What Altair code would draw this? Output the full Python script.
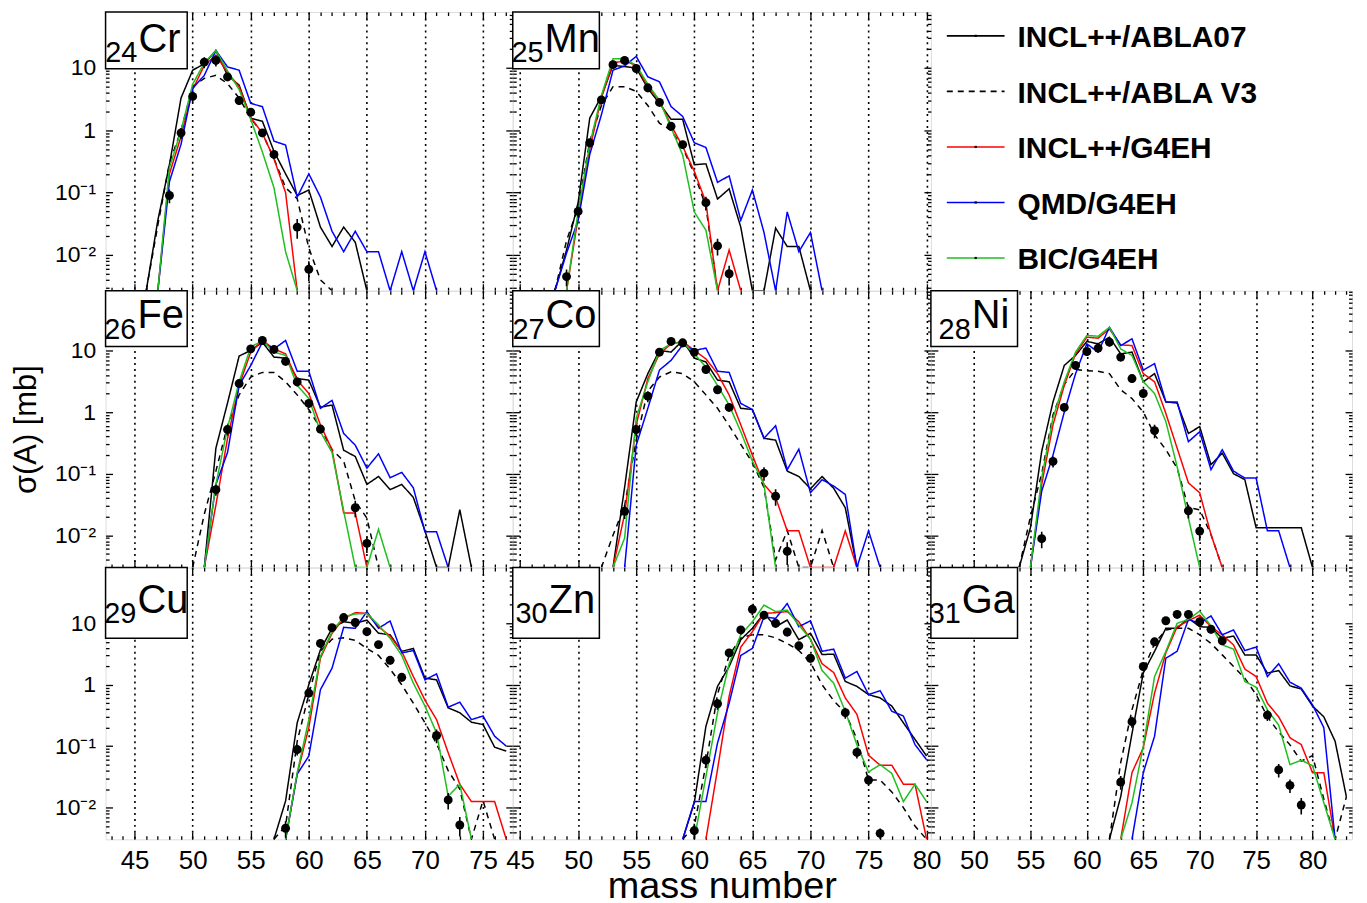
import math
import altair as alt
import pandas as pd

FONT = "Liberation Sans, Arial, Helvetica, sans-serif"

# ---------------- data ----------------
MODEL_NAMES = ["INCL++/ABLA07", "INCL++/ABLA V3", "INCL++/G4EH", "QMD/G4EH", "BIC/G4EH"]
MODEL_COLORS = ["#000000", "#000000", "#ff0000", "#0000ff", "#1fbf1f"]
MODEL_DASHES = [[1, 0], [6, 5], [1, 0], [1, 0], [1, 0]]

# Cr (Z=24)
CR_EXP_A = [48, 49, 50, 51, 52, 53, 54, 55, 56, 57, 59, 60]
CR_EXP_S = [0.09, 0.91, 3.5, 12.4, 13.2, 7.2, 3.0, 1.95, 0.91, 0.41, 0.028, 0.0059]
CR_EXP_E = [0.25, 0.2, 0.2, 0.2, 0.2, 0.15, 0.15, 0.15, 0.15, 0.15, 0.35, 0.35]
CR_A0 = [46, 46, 47, 47, 47]
CR_ABLA07 = [0, 0.036, 0.28, 3.3, 9.2, 11.7, 19, 7.6, 5.3, 1.56, 1.4, 0.46, 0.2, 0.09, 0.11, 0.028, 0.0137, 0.028, 0.016, 0]
CR_ABLAV3 = [0, 0.03, 0.3, 1.0, 5, 6.8, 7.6, 5.6, 3.3, 1.55, 0.9, 0.35, 0.12, 0.08, 0.013, 0.004, 0]
CR_G4EH = [0, 0.2, 0.8, 4.5, 11, 16, 8.5, 5, 1.6, 0.9, 0.35, 0.1, 0]
CR_QMD = [0, 0.15, 0.6, 4.7, 7.6, 19, 10.4, 9.2, 2.7, 2.4, 0.67, 0.58, 0.085, 0.2, 0.085, 0.024, 0.0113, 0.024, 0.0113, 0.0113, 0, 0.0113, 0, 0.0113, 0]
CR_BIC = [0, 0.25, 1.0, 5.5, 12, 19, 9, 4.5, 1.5, 0.45, 0.12, 0.0113, 0]

# Mn (Z=25)
MN_EXP_A = [49, 50, 51, 52, 53, 54, 55, 56, 57, 58, 59, 61, 62, 63]
MN_EXP_S = [0.0045, 0.05, 0.63, 3.07, 11.3, 13.2, 9.8, 4.8, 2.8, 1.16, 0.59, 0.069, 0.014, 0.005]
MN_EXP_E = [0.3, 0.2, 0.15, 0.15, 0.15, 0.15, 0.15, 0.15, 0.15, 0.15, 0.15, 0.25, 0.3, 0.35]
MN_A0 = [48, 48, 49, 48, 49]
MN_ABLA07 = [0, 0.012, 0.07, 1.57, 3.5, 11, 10.5, 10, 4.7, 2.7, 1.5, 1.5, 0.28, 0.29, 0.079, 0.115, 0.028, 0, 0, 0.027, 0.0137, 0.0137, 0]
MN_ABLAV3 = [0, 0.017, 0.058, 0.67, 2.5, 5, 5, 4.2, 2.5, 1.3, 1.0, 0.53, 0.2, 0.06, 0]
MN_G4EH = [0, 0.04, 0.5, 3.3, 12, 13, 11, 5, 3, 1.2, 0.55, 0.22, 0.07, 0, 0.012, 0]
MN_QMD = [0, 0.0107, 0.036, 0.41, 1.77, 9.2, 10.8, 15.3, 7.2, 6.0, 2.4, 1.67, 0.63, 0.53, 0.146, 0.186, 0.036, 0.11, 0.023, 0, 0.049, 0.0113, 0.023, 0]
MN_BIC = [0, 0.05, 0.6, 3.6, 14, 14, 11, 5.5, 3, 1.1, 0.4, 0.049, 0.025, 0]

# Fe (Z=26)
FE_EXP_A = [52, 53, 54, 55, 56, 57, 58, 59, 60, 61, 64, 65]
FE_EXP_S = [0.055, 0.52, 2.9, 10.6, 14.5, 10.4, 6.65, 3.08, 1.38, 0.53, 0.028, 0.0074]
FE_EXP_E = [0.2, 0.2, 0.15, 0.15, 0.15, 0.15, 0.15, 0.15, 0.15, 0.15, 0.3, 0.3]
FE_A0 = [51, 50, 51, 51, 51]
FE_ABLA07 = [0, 0.26, 1.4, 8.1, 10, 13.6, 7.8, 7.5, 3.5, 3.3, 1.2, 1.3, 0.24, 0.19, 0.067, 0.09, 0.055, 0.067, 0.041, 0.0118, 0, 0, 0.026, 0]
FE_ABLAV3 = [0, 0.022, 0.11, 0.6, 1.9, 3.7, 4.4, 4.4, 3.1, 1.9, 1.1, 0.55, 0.245, 0.16, 0.036, 0.019, 0]
FE_G4EH = [0, 0.031, 0.37, 2.7, 9.4, 14.5, 10.6, 8.8, 3.3, 2.0, 0.62, 0.245, 0.023, 0.023, 0]
FE_QMD = [0, 0.067, 0.22, 2.7, 5.7, 13.6, 10.6, 14.5, 4.6, 4.6, 1.15, 1.55, 0.45, 0.29, 0.123, 0.21, 0.086, 0.105, 0.059, 0.0114, 0.0114, 0]
FE_BIC = [0, 0.067, 0.55, 3.1, 11.3, 14.5, 9.4, 8.3, 2.7, 1.66, 0.48, 0.22, 0.025, 0, 0, 0.0125, 0]

# Co (Z=27)
CO_EXP_A = [54, 55, 56, 57, 58, 59, 60, 61, 62, 63, 66, 67, 68]
CO_EXP_S = [0.0245, 0.52, 1.81, 9.4, 14, 13.3, 9.4, 4.9, 2.3, 1.19, 0.102, 0.043, 0.0055]
CO_EXP_E = [0.25, 0.2, 0.2, 0.15, 0.15, 0.15, 0.15, 0.15, 0.15, 0.15, 0.25, 0.3, 0.4]
CO_A0 = [53, 52, 53, 54, 53]
CO_ABLA07 = [0, 0.06, 1.46, 4.2, 10, 9.4, 14.5, 7.5, 6.5, 3.3, 3.1, 1.15, 1.1, 0.375, 0.35, 0.11, 0.09, 0.057, 0.09, 0.058, 0.028, 0]
CO_ABLAV3 = [0, 0.01, 0.03, 0.35, 2.2, 3.7, 4.5, 4.2, 3.1, 1.9, 1.15, 0.6, 0.3, 0.15, 0.06, 0.004, 0.012, 0, 0, 0.012, 0]
CO_G4EH = [0, 0.022, 0.62, 3.5, 8.8, 12.8, 14, 10, 7.3, 4.2, 1.89, 0.62, 0.2, 0.067, 0.041, 0.0118, 0.0118, 0, 0, 0, 0.0118, 0]
CO_QMD = [0, 0.29, 1.15, 4.8, 6.9, 12.3, 10, 10.9, 4.6, 4.4, 1.38, 1.1, 0.375, 0.6, 0.116, 0.25, 0.049, 0.08, 0.063, 0.046, 0, 0.0118, 0]
CO_BIC = [0, 0.009, 0.8, 3.1, 10, 12.8, 13.6, 8.8, 5.4, 2.7, 1.3, 0.48, 0.16, 0.067, 0]

# Ni (Z=28)
NI_EXP_A = [56, 57, 58, 59, 60, 61, 62, 63, 64, 65, 66, 69, 70]
NI_EXP_S = [0.0088, 0.158, 1.19, 5.7, 9.6, 10.9, 13.6, 7.8, 3.5, 2.0, 0.5, 0.025, 0.0117]
NI_EXP_E = [0.3, 0.2, 0.15, 0.15, 0.15, 0.15, 0.15, 0.15, 0.15, 0.15, 0.25, 0.25, 0.3]
NI_A0 = [54, 54, 55, 55, 55]
NI_ABLA07 = [0, 0.0133, 0.23, 1.46, 5.7, 8.3, 14, 12.8, 16.4, 8.8, 9.4, 3.1, 4.2, 1.46, 1.4, 0.45, 0.58, 0.14, 0.215, 0.1, 0.08, 0.0133, 0.0133, 0.0133, 0.0133, 0.0133, 0]
NI_ABLAV3 = [0, 0.02, 0.1, 0.9, 2.8, 4.9, 4.7, 4.6, 4.2, 2.3, 1.66, 1.0, 0.43, 0.245, 0.123, 0.028, 0.026, 0.0103, 0]
NI_G4EH = [0, 0.067, 0.62, 2.7, 8.8, 16.4, 15.8, 22.3, 12.3, 12, 4.2, 3.1, 0.95, 0.26, 0.071, 0.049, 0.0103, 0]
NI_QMD = [0, 0.052, 0.2, 1.0, 4.2, 12.8, 9.4, 23.8, 12, 15.4, 4.8, 6.1, 1.46, 1.46, 0.33, 0.48, 0.116, 0.245, 0.11, 0.085, 0.085, 0.0118, 0.0118, 0]
NI_BIC = [0, 0.086, 0.8, 3.1, 9.4, 17.5, 17, 23.8, 10.6, 8.3, 3.1, 2.0, 0.7, 0.13, 0.019, 0]

# Cu (Z=29)
CU_EXP_A = [58, 59, 60, 61, 62, 63, 64, 65, 66, 67, 68, 71, 72, 73]
CU_EXP_S = [0.0046, 0.088, 0.73, 4.7, 8.5, 12.4, 10.3, 7.3, 4.5, 2.5, 1.32, 0.149, 0.0133, 0.0052]
CU_EXP_E = [0.3, 0.2, 0.15, 0.15, 0.15, 0.15, 0.15, 0.15, 0.15, 0.15, 0.15, 0.25, 0.3, 0.35]
CU_A0 = [57, 57, 58, 58, 58]
CU_ABLA07 = [0, 0.0128, 0.24, 1.0, 3.7, 8.3, 10.6, 10, 11.3, 6.9, 6.5, 3.5, 3.9, 1.28, 1.2, 0.42, 0.35, 0.245, 0.225, 0.096, 0.083]
CU_ABLAV3 = [0, 0.005, 0.12, 0.7, 3.5, 5.5, 5.8, 5.3, 3.9, 3.0, 1.8, 1.0, 0.5, 0.24, 0.11, 0.04, 0.02, 0, 0.013, 0]
CU_G4EH = [0, 0.035, 0.2, 2.7, 6.9, 12, 14.9, 14.5, 8.8, 6.2, 3.5, 1.36, 0.56, 0.27, 0.078, 0.024, 0.0125, 0.0125, 0.0125, 0]
CU_QMD = [0, 0.035, 0.069, 0.83, 1.86, 8.6, 8.3, 15.5, 8.3, 10.9, 3.3, 3.6, 1.2, 1.5, 0.43, 0.52, 0.27, 0.31, 0.145, 0.1]
CU_BIC = [0, 0.037, 0.27, 2.9, 7.3, 12.8, 14.2, 14.5, 9.4, 5.7, 3.0, 1.06, 0.45, 0.164, 0.0153, 0.024, 0]

# Zn (Z=30)
ZN_EXP_A = [60, 61, 62, 63, 64, 65, 66, 67, 68, 69, 70, 73, 74, 75, 76]
ZN_EXP_S = [0.0042, 0.059, 0.49, 3.3, 7.8, 16.9, 13.6, 10, 7.2, 4.3, 2.7, 0.35, 0.079, 0.028, 0.0038]
ZN_EXP_E = [0.3, 0.25, 0.2, 0.15, 0.15, 0.2, 0.15, 0.15, 0.15, 0.15, 0.15, 0.2, 0.2, 0.2, 0.2]
ZN_A0 = [59, 59, 61, 59, 60]
ZN_ABLA07 = [0, 0.012, 0.21, 0.94, 1.98, 5.4, 8.3, 14.5, 8.8, 11.3, 5.4, 6.9, 3.1, 3.15, 1.13, 0.94, 0.69, 0.61, 0.45, 0.24, 0.129, 0.069]
ZN_ABLAV3 = [0, 0.005, 0.05, 0.7, 3.0, 5.8, 6.5, 6.5, 5.8, 4.7, 3.6, 2.3, 1.0, 0.55, 0.35, 0.13, 0.028, 0.028, 0.018, 0.01, 0.005, 0]
ZN_G4EH = [0, 0.042, 0.65, 4.1, 7.3, 14.5, 14.9, 15.5, 10.6, 5.5, 2.2, 1.58, 0.61, 0.33, 0.071, 0.049, 0.049, 0.024, 0.024, 0]
ZN_QMD = [0, 0.0125, 0.0125, 0.113, 0.5, 3.0, 3.9, 12.8, 12, 21, 8.8, 11, 3.5, 3.8, 1.28, 1.64, 0.69, 0.8, 0.37, 0.31, 0.106, 0.06]
ZN_BIC = [0, 0.032, 0.35, 2.2, 6.5, 10.6, 19.8, 15.5, 16.4, 9.4, 5.5, 1.7, 1.06, 0.37, 0.105, 0.038, 0.05, 0.036, 0.0125, 0.024, 0.0125]

# Ga (Z=31)
GA_EXP_A = [63, 64, 65, 66, 67, 68, 69, 70, 71, 72, 76, 77, 78, 79]
GA_EXP_S = [0.026, 0.25, 1.98, 5.0, 11, 14, 14, 10.6, 8.0, 5.2, 0.32, 0.041, 0.023, 0.011]
GA_EXP_E = [0.25, 0.2, 0.15, 0.15, 0.15, 0.15, 0.15, 0.15, 0.15, 0.15, 0.2, 0.25, 0.25, 0.3]
GA_A0 = [62, 62, 63, 64, 63]
GA_ABLA07 = [0, 0.015, 0.16, 1.55, 3.5, 8.3, 8.3, 12.1, 8.8, 8.6, 5.7, 6.2, 3.06, 3.06, 1.55, 1.7, 0.96, 0.85, 0.45, 0.3, 0.12, 0.015]
GA_ABLAV3 = [0, 0.054, 0.39, 1.75, 4.7, 7.8, 8.3, 8.3, 6.5, 4.7, 3.06, 1.98, 1.28, 0.69, 0.3, 0.17, 0.105, 0.057, 0.07, 0.0137, 0, 0.015]
GA_G4EH = [0, 0.037, 0.094, 0.73, 3.3, 8.8, 11, 13.6, 8.8, 6.5, 4.45, 1.8, 1.36, 0.5, 0.3, 0.137, 0.106, 0.037, 0.037, 0]
GA_QMD = [0, 0.037, 0.145, 2.7, 3.5, 11.6, 10, 13.2, 6.5, 7.8, 3.6, 4.1, 1.36, 2.2, 1.1, 0.88, 0.47, 0.2, 0]
GA_BIC = [0, 0.012, 0.1, 1.36, 3.5, 10, 11.6, 15.8, 9.05, 4.45, 3.8, 1.13, 0.91, 0.39, 0.22, 0.05, 0.059, 0.048, 0.012, 0]

ELEMENTS = {
    "Cr": (24, CR_EXP_A, CR_EXP_S, CR_EXP_E, CR_A0, [CR_ABLA07, CR_ABLAV3, CR_G4EH, CR_QMD, CR_BIC]),
    "Mn": (25, MN_EXP_A, MN_EXP_S, MN_EXP_E, MN_A0, [MN_ABLA07, MN_ABLAV3, MN_G4EH, MN_QMD, MN_BIC]),
    "Fe": (26, FE_EXP_A, FE_EXP_S, FE_EXP_E, FE_A0, [FE_ABLA07, FE_ABLAV3, FE_G4EH, FE_QMD, FE_BIC]),
    "Co": (27, CO_EXP_A, CO_EXP_S, CO_EXP_E, CO_A0, [CO_ABLA07, CO_ABLAV3, CO_G4EH, CO_QMD, CO_BIC]),
    "Ni": (28, NI_EXP_A, NI_EXP_S, NI_EXP_E, NI_A0, [NI_ABLA07, NI_ABLAV3, NI_G4EH, NI_QMD, NI_BIC]),
    "Cu": (29, CU_EXP_A, CU_EXP_S, CU_EXP_E, CU_A0, [CU_ABLA07, CU_ABLAV3, CU_G4EH, CU_QMD, CU_BIC]),
    "Zn": (30, ZN_EXP_A, ZN_EXP_S, ZN_EXP_E, ZN_A0, [ZN_ABLA07, ZN_ABLAV3, ZN_G4EH, ZN_QMD, ZN_BIC]),
    "Ga": (31, GA_EXP_A, GA_EXP_S, GA_EXP_E, GA_A0, [GA_ABLA07, GA_ABLAV3, GA_G4EH, GA_QMD, GA_BIC]),
}
GRID = [["Cr", "Mn", None], ["Fe", "Co", "Ni"], ["Cu", "Zn", "Ga"]]

# ---------------- layout / style ----------------
COL_X_DOMAIN = [[42.5, 77.56], [44.37, 80.37], [46.18, 83.5]]
COL_WIDTH = [409, 420, 423]
ROW_Y_DOMAIN = [[0.00267, 79], [0.0030, 93], [0.00304, 81]]
ROW_HEIGHT = [280, 278, 273]
BOX_W = [82, 87, 87]
BOX_H = [57, 56, 71]
SYM_BASE = [40, 37, 46]
SUB_BASE = [50, 48, 56]
SYM_X = {"Cr": 33, "Mn": 32, "Fe": 32, "Co": 33, "Ni": 41, "Cu": 32, "Zn": 36, "Ga": 31}

Y_LABEL_EXPR = ("datum.value >= 5 ? '10' : datum.value >= 0.5 ? '1' : "
                "datum.value >= 0.05 ? '10\u207b\u00b9' : '10\u207b\u00b2'")


def tick_axis(orient, values, size):
    return alt.Axis(orient=orient, values=values, labels=False, domain=False, grid=False,
                    ticks=True, tickSize=size, offset=-size, tickColor="black", tickWidth=1.3)


def panel(sym, row, col):
    z, ea, es, ee, a0s, curves = ELEMENTS[sym]
    xd, yd = COL_X_DOMAIN[col], ROW_Y_DOMAIN[row]
    xs = alt.Scale(domain=xd, nice=False, zero=False)
    ys = alt.Scale(type="log", domain=yd, nice=False)
    ymin = yd[0]
    exp = pd.DataFrame({"A": ea, "s": es,
                        "lo": [s * (1 - e) for s, e in zip(es, ee)],
                        "hi": [s * (1 + e) for s, e in zip(es, ee)]})
    major_x = [v for v in range(45, 85, 5) if xd[0] <= v <= xd[1]]
    minor_x = [v for v in range(math.ceil(xd[0]), math.floor(xd[1]) + 1) if v % 5]
    major_y = [0.01, 0.1, 1, 10]
    minor_y = [k * 10.0 ** e for e in range(-3, 2) for k in range(2, 10) if yd[0] <= k * 10.0 ** e <= yd[1]]

    xtitle = "mass number" if (row == 2 and col == 1) else None
    ytitle = "\u03c3(A) [mb]" if (row == 1 and col == 0) else None

    x_lab = alt.Axis(orient="bottom", values=major_x, labels=(row == 2), ticks=False, tickSize=0,
                     domain=False, grid=True, gridDash=[2, 4], gridColor="black", gridWidth=1.6,
                     labelFont=FONT, labelFontSize=26, labelColor="black", labelPadding=8,
                     labelFlush=False, labelOverlap=False, format="d",
                     titleFont=FONT, titleFontSize=38, titleFontWeight="normal", titleColor="black",
                     titlePadding=-6)
    y_lab = alt.Axis(orient="left", values=major_y, labels=(col == 0), ticks=False, tickSize=0,
                     domain=False, grid=False, labelExpr=Y_LABEL_EXPR,
                     labelFont=FONT, labelFontSize=23, labelColor="black", labelPadding=10,
                     labelFlush=False, labelOverlap=False,
                     titleFont=FONT, titleFontSize=31, titleFontWeight="normal", titleColor="black",
                     titlePadding=12)

    def ax_layer(xa, ya, xt=None, yt=None):
        return alt.Chart(exp).mark_point(opacity=0).encode(
            x=alt.X("A:Q", scale=xs, axis=xa, title=xt),
            y=alt.Y("s:Q", scale=ys, axis=ya, title=yt))

    layers = [
        ax_layer(x_lab, y_lab, xtitle, ytitle),
        ax_layer(tick_axis("bottom", major_x, 7), tick_axis("left", major_y, 7)),
        ax_layer(tick_axis("bottom", minor_x, 3.5), tick_axis("left", minor_y, 3.5)),
        ax_layer(tick_axis("top", major_x, 7), tick_axis("right", major_y, 7)),
        ax_layer(tick_axis("top", minor_x, 3.5), tick_axis("right", minor_y, 3.5)),
    ]
    for name, color, dash, a0, vals in zip(MODEL_NAMES, MODEL_COLORS, MODEL_DASHES, a0s, curves):
        df = pd.DataFrame({"A": [a0 + i for i in range(len(vals))],
                           "s": [v if v > 0 else ymin for v in vals]})
        layers.append(alt.Chart(df).mark_line(color=color, strokeWidth=1.5, strokeDash=dash, clip=True).encode(
            x=alt.X("A:Q", scale=xs, axis=None), y=alt.Y("s:Q", scale=ys, axis=None)))
    layers.append(alt.Chart(exp).mark_rule(color="black", strokeWidth=1.6, clip=True).encode(
        x=alt.X("A:Q", scale=xs, axis=None), y=alt.Y("lo:Q", scale=ys, axis=None), y2="hi:Q"))
    layers.append(alt.Chart(exp).mark_circle(color="black", size=80, opacity=1, clip=True).encode(
        x=alt.X("A:Q", scale=xs, axis=None), y=alt.Y("s:Q", scale=ys, axis=None)))

    lab = pd.DataFrame({"sym": [sym], "z": [str(z)]})
    layers.append(alt.Chart(lab).mark_rect(fill="white", stroke="black", strokeWidth=1.5).encode(
        x=alt.value(0), x2=alt.value(BOX_W[col]), y=alt.value(0), y2=alt.value(BOX_H[row])))
    layers.append(alt.Chart(lab).mark_text(align="right", baseline="alphabetic", font=FONT, fontSize=29,
                                           color="black").encode(
        x=alt.value(SYM_X[sym] - 1), y=alt.value(SUB_BASE[row]), text="z:N"))
    layers.append(alt.Chart(lab).mark_text(align="left", baseline="alphabetic", font=FONT, fontSize=40,
                                           color="black").encode(
        x=alt.value(SYM_X[sym]), y=alt.value(SYM_BASE[row]), text="sym:N"))

    return alt.layer(*layers).resolve_axis(x="independent", y="independent").properties(
        width=COL_WIDTH[col], height=ROW_HEIGHT[row])


def legend_panel(row, col):
    leg = pd.DataFrame({"i": list(range(len(MODEL_NAMES))), "label": MODEL_NAMES,
                        "solid": [d == [1, 0] for d in MODEL_DASHES]})
    ly = alt.Y("i:Q", scale=alt.Scale(domain=[-0.43, 4.59], reverse=True, nice=False, zero=False), axis=None)
    cscale = alt.Scale(domain=MODEL_NAMES, range=MODEL_COLORS)
    dscale = alt.Scale(domain=MODEL_NAMES, range=MODEL_DASHES)
    rules = alt.Chart(leg).mark_rule(strokeWidth=1.6).encode(
        x=alt.value(16), x2=alt.value(74), y=ly,
        color=alt.Color("label:N", scale=cscale, legend=None),
        strokeDash=alt.StrokeDash("label:N", scale=dscale, legend=None))
    dots = alt.Chart(leg).transform_filter("datum.solid").mark_square(size=5, color="black", opacity=1).encode(
        x=alt.value(45), y=ly)
    texts = alt.Chart(leg).mark_text(align="left", baseline="middle", font=FONT, fontSize=30,
                                     fontWeight="bold", color="black", dy=2.5).encode(
        x=alt.value(87), y=ly, text="label:N")
    return alt.layer(rules, dots, texts).properties(
        width=COL_WIDTH[col], height=ROW_HEIGHT[row], view=alt.ViewBackground(strokeOpacity=0))


cells = []
for r, line in enumerate(GRID):
    for c, sym in enumerate(line):
        cells.append(panel(sym, r, c) if sym else legend_panel(r, c))

chart = alt.concat(*cells, columns=3, spacing=0, bounds="flush").properties(
    padding={"left": 2, "top": 0, "right": 5, "bottom": 2}
).configure_view(stroke="black", strokeWidth=2).configure(font=FONT)

chart.save("out.html", embed_options={"renderer": "svg", "actions": False})
